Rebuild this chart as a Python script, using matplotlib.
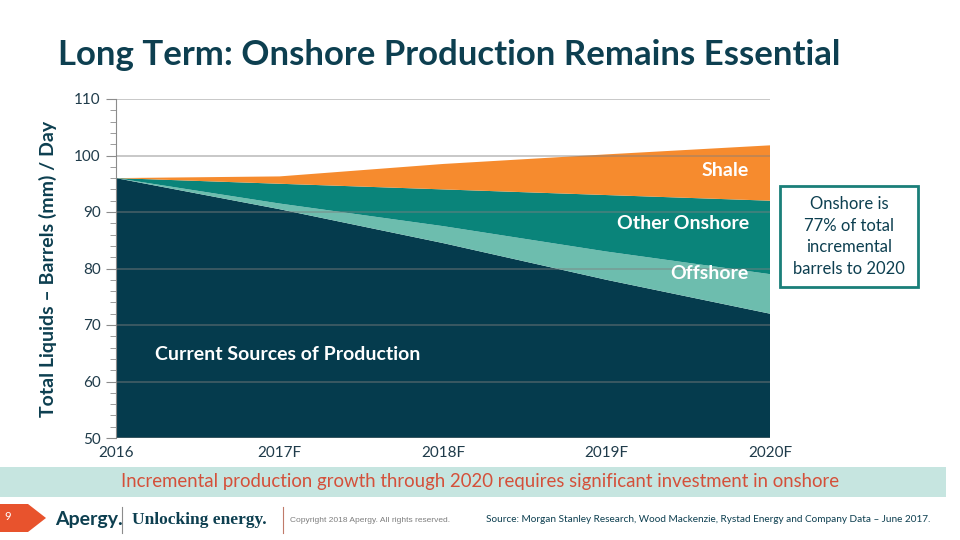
import numpy as np
import matplotlib
matplotlib.use("Agg")
from matplotlib import pyplot as plt
from matplotlib.patches import Rectangle, Polygon

# data (mm barrels / day)
years = ["2016", "2017F", "2018F", "2019F", "2020F"]
current = [96.0, 90.5, 84.5, 78.0, 72.0]
offshore = [0.0, 1.0, 3.0, 5.0, 7.0]
other_onshore = [0.0, 3.5, 6.5, 10.0, 13.0]
shale = [0.0, 1.3, 4.5, 7.2, 9.8]

c_dark = "#053B4D"
c_off = "#6DBDAE"
c_other = "#0A847A"
c_shale = "#F68B2E"
c_title = "#0D3F50"

plt.rcParams["font.family"] = ["Lato", "DejaVu Sans"]

fig = plt.figure(figsize=(9.6, 5.4), dpi=100)
ax = fig.add_axes([116 / 960, 1 - 438 / 540, (770 - 116) / 960, (438 - 99) / 540])

x = np.arange(len(years))
ax.stackplot(x, current, offshore, other_onshore, shale,
             colors=[c_dark, c_off, c_other, c_shale], linewidth=0)

ax.set_xlim(0, len(years) - 1)
ax.set_ylim(50, 110)
ax.set_xticks(x)
ax.set_xticklabels(years)
ax.set_yticks(range(50, 111, 10))
ax.set_yticks(range(50, 111, 2), minor=True)
ax.yaxis.grid(True, color="#7f7f7f", linewidth=1.2, alpha=0.5, zorder=5)
ax.set_axisbelow(False)
for s in ["top", "right", "bottom"]:
    ax.spines[s].set_visible(False)
ax.spines["left"].set_color("#8c8c8c")
ax.tick_params(axis="y", which="major", length=7, color="#8c8c8c", labelsize=11,
               labelcolor="#1f3b4a", pad=4)
ax.tick_params(axis="y", which="minor", length=4, color="#8c8c8c")
ax.tick_params(axis="x", length=0, labelsize=11, labelcolor="#1f3b4a", pad=6)

ax.set_ylabel("Total Liquids \u2013 Barrels (mm) / Day", fontsize=14, fontweight="bold",
              color=c_title, labelpad=12)

# layer labels
lab = dict(color="white", fontsize=14, fontweight="bold", va="center")
ax.text(3.87, 97.4, "Shale", ha="right", **lab)
ax.text(3.87, 88.0, "Other Onshore", ha="right", **lab)
ax.text(3.87, 79.2, "Offshore", ha="right", **lab)
ax.text(0.24, 64.8, "Current Sources of Production", ha="left", **lab)

# title
fig.text(58 / 960, 1 - 55 / 540, "Long Term: Onshore Production Remains Essential",
         fontsize=25, fontweight="bold", color=c_title, ha="left", va="center")

# callout box
fig.patches.append(Rectangle((780 / 960, 1 - 287 / 540), 138 / 960, 101 / 540,
                             transform=fig.transFigure, facecolor="white",
                             edgecolor="#1A7F79", linewidth=2))
fig.text(849 / 960, 1 - 236.5 / 540, "Onshore is\n77% of total\nincremental\nbarrels to 2020",
         fontsize=12, color=c_title, ha="center", va="center", linespacing=1.45)

# banner
fig.patches.append(Rectangle((0, 1 - 497 / 540), 946 / 960, 30 / 540,
                             transform=fig.transFigure, facecolor="#C6E5E0", edgecolor="none"))
fig.text(480 / 960, 1 - 482 / 540,
         "Incremental production growth through 2020 requires significant investment in onshore",
         fontsize=13.4, color="#D4503A", ha="center", va="center")

# footer
fig.patches.append(Polygon([(0, 1 - 504 / 540), (28 / 960, 1 - 504 / 540), (46 / 960, 1 - 518 / 540),
                            (28 / 960, 1 - 532 / 540), (0, 1 - 532 / 540)],
                           closed=True, transform=fig.transFigure, facecolor="#E8532D",
                           edgecolor="none"))
fig.text(8 / 960, 1 - 516 / 540, "9", fontsize=8, color="white", ha="center", va="center")
fig.text(55 / 960, 1 - 520 / 540, "Apergy.", fontsize=14, fontweight="bold", color="#0D3F50",
         ha="left", va="center")
fig.add_artist(plt.Line2D([122 / 960, 122 / 960], [1 - 507 / 540, 1 - 533 / 540],
                          color="#8c8c8c", linewidth=0.8))
fig.text(132 / 960, 1 - 520 / 540, "Unlocking energy.", fontsize=12.5, fontweight="bold",
         color="#0D3F50", ha="left", va="center", family="Liberation Serif")
fig.add_artist(plt.Line2D([283 / 960, 283 / 960], [1 - 507 / 540, 1 - 533 / 540],
                          color="#c07a6a", linewidth=0.8))
fig.text(290 / 960, 1 - 521 / 540, "Copyright 2018 Apergy. All rights reserved.", fontsize=6,
         color="#7f7f7f", ha="left", va="center", family="Liberation Sans")
fig.text(486 / 960, 1 - 520 / 540,
         "Source: Morgan Stanley Research, Wood Mackenzie, Rystad Energy and Company Data \u2013 June 2017.",
         fontsize=7.2, color="#0D3F50", ha="left", va="center")

fig.savefig("out.png", dpi=100)
